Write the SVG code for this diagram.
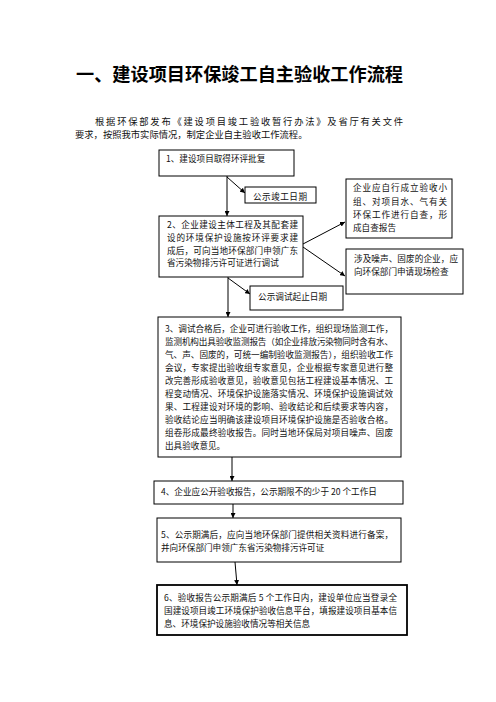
<svg xmlns="http://www.w3.org/2000/svg" width="496" height="702" viewBox="0 0 496 702">
<style>
.bx{fill:#fff;stroke:#000;stroke-width:1}
.bx2{fill:#fff;stroke:#000;stroke-width:1.8}
.t{font-family:"Noto Sans CJK SC","Noto Sans CJK JP",sans-serif;font-size:8.6px;fill:#111}
.p{font-family:"Noto Sans CJK SC","Noto Sans CJK JP",sans-serif;font-size:9.3px;fill:#111}
.ttl{font-family:"Noto Sans CJK SC","Noto Sans CJK JP",sans-serif;font-size:18.2px;font-weight:bold;fill:#000}
.c{stroke:#000;stroke-width:1;fill:none;marker-end:url(#ah)}
</style>
<defs>
<marker id="ah" viewBox="0 0 10 10" refX="10" refY="5" markerWidth="5" markerHeight="5" orient="auto" markerUnits="userSpaceOnUse">
<path d="M0,0 L10,5 L0,10 z" fill="#000"/>
</marker>
</defs>
<rect width="496" height="702" fill="#fff"/>
<g id="title">
<text class="ttl" x="76" y="80.5" textLength="327" lengthAdjust="spacingAndGlyphs">一、建设项目环保竣工自主验收工作流程</text>
</g>
<g id="intro">
<text class="p" x="95" y="124.5" textLength="308" lengthAdjust="spacing">根据环保部发布《建设项目竣工验收暂行办法》及省厅有关文件</text>
<text class="p" x="75" y="138">要求，按照我市实际情况，制定企业自主验收工作流程。</text>
</g>
<g id="connectors">
<line class="c" x1="227" y1="176" x2="227" y2="216"/>
<line class="c" x1="227" y1="177" x2="245" y2="193"/>
<line class="c" x1="228" y1="277" x2="228" y2="317"/>
<line class="c" x1="228" y1="278" x2="250" y2="294"/>
<line class="c" x1="303" y1="244" x2="345" y2="222"/>
<line class="c" x1="303" y1="247" x2="345" y2="276"/>
<line class="c" x1="232" y1="457" x2="232" y2="481"/>
<line class="c" x1="233" y1="504" x2="233" y2="518"/>
<line class="c" x1="235" y1="562" x2="237" y2="585"/>
</g>
<g id="n1">
<rect class="bx" x="159" y="150" width="135" height="26"/>
<text class="t" x="166" y="162.3">1、建设项目取得环评批复</text>
</g>
<g id="n-pub1">
<rect class="bx" x="245" y="187" width="71" height="16"/>
<text class="t" x="253" y="200.3" textLength="54" lengthAdjust="spacing">公示竣工日期</text>
</g>
<g id="n2">
<rect class="bx" x="159" y="216" width="144" height="61"/>
<text class="t" x="167" y="228.3" textLength="131" lengthAdjust="spacing">2、企业建设主体工程及其配套建</text>
<text class="t" x="167" y="241" textLength="131" lengthAdjust="spacing">设的环境保护设施按环评要求建</text>
<text class="t" x="167" y="253.7" textLength="131" lengthAdjust="spacing">成后，可向当地环保部门申领广东</text>
<text class="t" x="167" y="266.4">省污染物排污许可证进行调试</text>
</g>
<g id="n-self">
<rect class="bx" x="346" y="179" width="106" height="59"/>
<text class="t" x="353" y="191.3" textLength="94" lengthAdjust="spacing">企业应自行成立验收小</text>
<text class="t" x="353" y="204.6" textLength="94" lengthAdjust="spacing">组、对项目水、气有关</text>
<text class="t" x="353" y="218" textLength="94" lengthAdjust="spacing">环保工作进行自查，形</text>
<text class="t" x="353" y="231.3">成自查报告</text>
</g>
<g id="n-noise">
<rect class="bx" x="346" y="249" width="117" height="45"/>
<text class="t" x="354" y="262.3" textLength="104" lengthAdjust="spacing">涉及噪声、固废的企业，应</text>
<text class="t" x="354" y="275.3">向环保部门申请现场检查</text>
</g>
<g id="n-pub2">
<rect class="bx" x="250" y="286" width="93" height="24"/>
<text class="t" x="258" y="300.3" textLength="69" lengthAdjust="spacing">公示调试起止日期</text>
</g>
<g id="n3">
<rect class="bx" x="158" y="317" width="243" height="140"/>
<text class="t" x="165" y="332.3" textLength="228" lengthAdjust="spacing">3、调试合格后，企业可进行验收工作，组织现场监测工作，</text>
<text class="t" x="165" y="345.3" textLength="228" lengthAdjust="spacing">监测机构出具验收监测报告（如企业排放污染物同时含有水、</text>
<text class="t" x="165" y="358.3" textLength="228" lengthAdjust="spacing">气、声、固废的，可统一编制验收监测报告），组织验收工作</text>
<text class="t" x="165" y="371.3" textLength="228" lengthAdjust="spacing">会议，专家提出验收组专家意见，企业根据专家意见进行整</text>
<text class="t" x="165" y="384.3" textLength="228" lengthAdjust="spacing">改完善形成验收意见，验收意见包括工程建设基本情况、工</text>
<text class="t" x="165" y="397.3" textLength="228" lengthAdjust="spacing">程变动情况、环境保护设施落实情况、环境保护设施调试效</text>
<text class="t" x="165" y="410.3" textLength="228" lengthAdjust="spacing">果、工程建设对环境的影响、验收结论和后续要求等内容，</text>
<text class="t" x="165" y="423.3" textLength="228" lengthAdjust="spacing">验收结论应当明确该建设项目环境保护设施是否验收合格。</text>
<text class="t" x="165" y="436.3" textLength="228" lengthAdjust="spacing">组卷形成最终验收报告。同时当地环保局对项目噪声、固废</text>
<text class="t" x="165" y="449.3">出具验收意见。</text>
</g>
<g id="n4">
<rect class="bx" x="154" y="481" width="249" height="23"/>
<text class="t" x="161" y="495.3">4、企业应公开验收报告，公示期限不的少于 20 个工作日</text>
</g>
<g id="n5">
<rect class="bx" x="157" y="518" width="244" height="44"/>
<text class="t" x="161" y="538.3" textLength="232" lengthAdjust="spacing">5、公示期满后，应向当地环保部门提供相关资料进行备案，</text>
<text class="t" x="161" y="551.3">并向环保部门申领广东省污染物排污许可证</text>
</g>
<g id="n6">
<rect class="bx2" x="157" y="585" width="250" height="50"/>
<text class="t" x="164" y="601.3" textLength="233" lengthAdjust="spacing">6、验收报告公示期满后 5 个工作日内，建设单位应当登录全</text>
<text class="t" x="164" y="614.3" textLength="233" lengthAdjust="spacing">国建设项目竣工环境保护验收信息平台，填报建设项目基本信</text>
<text class="t" x="164" y="627.3">息、环境保护设施验收情况等相关信息</text>
</g>
</svg>
